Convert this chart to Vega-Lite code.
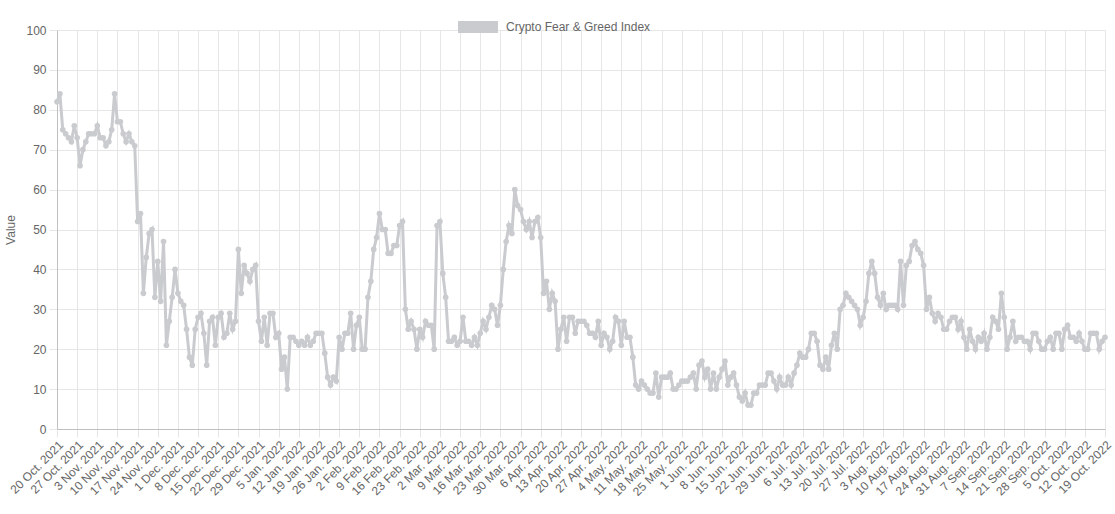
{
"$schema": "https://vega.github.io/schema/vega-lite/v6.json",
"autosize": {"type": "none"},
"width": 1048,
"height": 399,
"padding": {"left": 57, "top": 30, "right": 10, "bottom": 85},
"background": "white",
"config": {"view": {"stroke": null}, "font": "Liberation Sans"},
"data": {"values": [
{"d":"2021-10-20","v":82},{"d":"2021-10-21","v":84},{"d":"2021-10-22","v":75},{"d":"2021-10-23","v":74},{"d":"2021-10-24","v":73},{"d":"2021-10-25","v":72},{"d":"2021-10-26","v":76},{"d":"2021-10-27","v":73},{"d":"2021-10-28","v":66},{"d":"2021-10-29","v":70},{"d":"2021-10-30","v":72},{"d":"2021-10-31","v":74},
{"d":"2021-11-01","v":74},{"d":"2021-11-02","v":74},{"d":"2021-11-03","v":76},{"d":"2021-11-04","v":73},{"d":"2021-11-05","v":73},{"d":"2021-11-06","v":71},{"d":"2021-11-07","v":72},{"d":"2021-11-08","v":75},{"d":"2021-11-09","v":84},{"d":"2021-11-10","v":77},{"d":"2021-11-11","v":77},{"d":"2021-11-12","v":74},{"d":"2021-11-13","v":72},{"d":"2021-11-14","v":74},{"d":"2021-11-15","v":72},{"d":"2021-11-16","v":71},{"d":"2021-11-17","v":52},{"d":"2021-11-18","v":54},{"d":"2021-11-19","v":34},{"d":"2021-11-20","v":43},{"d":"2021-11-21","v":49},{"d":"2021-11-22","v":50},{"d":"2021-11-23","v":33},{"d":"2021-11-24","v":42},{"d":"2021-11-25","v":32},{"d":"2021-11-26","v":47},{"d":"2021-11-27","v":21},{"d":"2021-11-28","v":27},{"d":"2021-11-29","v":33},{"d":"2021-11-30","v":40},
{"d":"2021-12-01","v":34},{"d":"2021-12-02","v":32},{"d":"2021-12-03","v":31},{"d":"2021-12-04","v":25},{"d":"2021-12-05","v":18},{"d":"2021-12-06","v":16},{"d":"2021-12-07","v":25},{"d":"2021-12-08","v":28},{"d":"2021-12-09","v":29},{"d":"2021-12-10","v":24},{"d":"2021-12-11","v":16},{"d":"2021-12-12","v":27},{"d":"2021-12-13","v":28},{"d":"2021-12-14","v":21},{"d":"2021-12-15","v":28},{"d":"2021-12-16","v":29},{"d":"2021-12-17","v":23},{"d":"2021-12-18","v":24},{"d":"2021-12-19","v":29},{"d":"2021-12-20","v":25},{"d":"2021-12-21","v":27},{"d":"2021-12-22","v":45},{"d":"2021-12-23","v":34},{"d":"2021-12-24","v":41},{"d":"2021-12-25","v":39},{"d":"2021-12-26","v":37},{"d":"2021-12-27","v":40},{"d":"2021-12-28","v":41},{"d":"2021-12-29","v":27},{"d":"2021-12-30","v":22},{"d":"2021-12-31","v":28},
{"d":"2022-01-01","v":21},{"d":"2022-01-02","v":29},{"d":"2022-01-03","v":29},{"d":"2022-01-04","v":23},{"d":"2022-01-05","v":24},{"d":"2022-01-06","v":15},{"d":"2022-01-07","v":18},{"d":"2022-01-08","v":10},{"d":"2022-01-09","v":23},{"d":"2022-01-10","v":23},{"d":"2022-01-11","v":22},{"d":"2022-01-12","v":21},{"d":"2022-01-13","v":22},{"d":"2022-01-14","v":21},{"d":"2022-01-15","v":23},{"d":"2022-01-16","v":21},{"d":"2022-01-17","v":22},{"d":"2022-01-18","v":24},{"d":"2022-01-19","v":24},{"d":"2022-01-20","v":24},{"d":"2022-01-21","v":19},{"d":"2022-01-22","v":13},{"d":"2022-01-23","v":11},{"d":"2022-01-24","v":13},{"d":"2022-01-25","v":12},{"d":"2022-01-26","v":23},{"d":"2022-01-27","v":20},{"d":"2022-01-28","v":24},{"d":"2022-01-29","v":24},{"d":"2022-01-30","v":29},{"d":"2022-01-31","v":20},
{"d":"2022-02-01","v":26},{"d":"2022-02-02","v":28},{"d":"2022-02-03","v":20},{"d":"2022-02-04","v":20},{"d":"2022-02-05","v":33},{"d":"2022-02-06","v":37},{"d":"2022-02-07","v":45},{"d":"2022-02-08","v":48},{"d":"2022-02-09","v":54},{"d":"2022-02-10","v":50},{"d":"2022-02-11","v":50},{"d":"2022-02-12","v":44},{"d":"2022-02-13","v":44},{"d":"2022-02-14","v":46},{"d":"2022-02-15","v":46},{"d":"2022-02-16","v":51},{"d":"2022-02-17","v":52},{"d":"2022-02-18","v":30},{"d":"2022-02-19","v":25},{"d":"2022-02-20","v":27},{"d":"2022-02-21","v":25},{"d":"2022-02-22","v":20},{"d":"2022-02-23","v":25},{"d":"2022-02-24","v":23},{"d":"2022-02-25","v":27},{"d":"2022-02-26","v":26},{"d":"2022-02-27","v":26},{"d":"2022-02-28","v":20},
{"d":"2022-03-01","v":51},{"d":"2022-03-02","v":52},{"d":"2022-03-03","v":39},{"d":"2022-03-04","v":33},{"d":"2022-03-05","v":22},{"d":"2022-03-06","v":22},{"d":"2022-03-07","v":23},{"d":"2022-03-08","v":21},{"d":"2022-03-09","v":22},{"d":"2022-03-10","v":28},{"d":"2022-03-11","v":22},{"d":"2022-03-12","v":22},{"d":"2022-03-13","v":21},{"d":"2022-03-14","v":23},{"d":"2022-03-15","v":21},{"d":"2022-03-16","v":24},{"d":"2022-03-17","v":27},{"d":"2022-03-18","v":25},{"d":"2022-03-19","v":28},{"d":"2022-03-20","v":31},{"d":"2022-03-21","v":30},{"d":"2022-03-22","v":26},{"d":"2022-03-23","v":31},{"d":"2022-03-24","v":40},{"d":"2022-03-25","v":47},{"d":"2022-03-26","v":51},{"d":"2022-03-27","v":49},{"d":"2022-03-28","v":60},{"d":"2022-03-29","v":56},{"d":"2022-03-30","v":55},{"d":"2022-03-31","v":52},
{"d":"2022-04-01","v":50},{"d":"2022-04-02","v":52},{"d":"2022-04-03","v":48},{"d":"2022-04-04","v":52},{"d":"2022-04-05","v":53},{"d":"2022-04-06","v":48},{"d":"2022-04-07","v":34},{"d":"2022-04-08","v":37},{"d":"2022-04-09","v":30},{"d":"2022-04-10","v":34},{"d":"2022-04-11","v":32},{"d":"2022-04-12","v":20},{"d":"2022-04-13","v":25},{"d":"2022-04-14","v":28},{"d":"2022-04-15","v":22},{"d":"2022-04-16","v":28},{"d":"2022-04-17","v":28},{"d":"2022-04-18","v":24},{"d":"2022-04-19","v":27},{"d":"2022-04-20","v":27},{"d":"2022-04-21","v":27},{"d":"2022-04-22","v":26},{"d":"2022-04-23","v":24},{"d":"2022-04-24","v":24},{"d":"2022-04-25","v":23},{"d":"2022-04-26","v":27},{"d":"2022-04-27","v":21},{"d":"2022-04-28","v":24},{"d":"2022-04-29","v":23},{"d":"2022-04-30","v":20},
{"d":"2022-05-01","v":22},{"d":"2022-05-02","v":28},{"d":"2022-05-03","v":27},{"d":"2022-05-04","v":21},{"d":"2022-05-05","v":27},{"d":"2022-05-06","v":23},{"d":"2022-05-07","v":23},{"d":"2022-05-08","v":18},{"d":"2022-05-09","v":11},{"d":"2022-05-10","v":10},{"d":"2022-05-11","v":12},{"d":"2022-05-12","v":11},{"d":"2022-05-13","v":10},{"d":"2022-05-14","v":9},{"d":"2022-05-15","v":9},{"d":"2022-05-16","v":14},{"d":"2022-05-17","v":8},{"d":"2022-05-18","v":13},{"d":"2022-05-19","v":13},{"d":"2022-05-20","v":13},{"d":"2022-05-21","v":14},{"d":"2022-05-22","v":10},{"d":"2022-05-23","v":10},{"d":"2022-05-24","v":11},{"d":"2022-05-25","v":12},{"d":"2022-05-26","v":12},{"d":"2022-05-27","v":12},{"d":"2022-05-28","v":13},{"d":"2022-05-29","v":14},{"d":"2022-05-30","v":10},{"d":"2022-05-31","v":16},
{"d":"2022-06-01","v":17},{"d":"2022-06-02","v":13},{"d":"2022-06-03","v":15},{"d":"2022-06-04","v":10},{"d":"2022-06-05","v":14},{"d":"2022-06-06","v":10},{"d":"2022-06-07","v":13},{"d":"2022-06-08","v":15},{"d":"2022-06-09","v":17},{"d":"2022-06-10","v":11},{"d":"2022-06-11","v":13},{"d":"2022-06-12","v":14},{"d":"2022-06-13","v":11},{"d":"2022-06-14","v":8},{"d":"2022-06-15","v":7},{"d":"2022-06-16","v":9},{"d":"2022-06-17","v":6},{"d":"2022-06-18","v":6},{"d":"2022-06-19","v":9},{"d":"2022-06-20","v":9},{"d":"2022-06-21","v":11},{"d":"2022-06-22","v":11},{"d":"2022-06-23","v":11},{"d":"2022-06-24","v":14},{"d":"2022-06-25","v":14},{"d":"2022-06-26","v":12},{"d":"2022-06-27","v":10},{"d":"2022-06-28","v":13},{"d":"2022-06-29","v":11},{"d":"2022-06-30","v":11},
{"d":"2022-07-01","v":13},{"d":"2022-07-02","v":11},{"d":"2022-07-03","v":14},{"d":"2022-07-04","v":16},{"d":"2022-07-05","v":19},{"d":"2022-07-06","v":18},{"d":"2022-07-07","v":18},{"d":"2022-07-08","v":20},{"d":"2022-07-09","v":24},{"d":"2022-07-10","v":24},{"d":"2022-07-11","v":22},{"d":"2022-07-12","v":16},{"d":"2022-07-13","v":15},{"d":"2022-07-14","v":18},{"d":"2022-07-15","v":15},{"d":"2022-07-16","v":21},{"d":"2022-07-17","v":24},{"d":"2022-07-18","v":20},{"d":"2022-07-19","v":30},{"d":"2022-07-20","v":31},{"d":"2022-07-21","v":34},{"d":"2022-07-22","v":33},{"d":"2022-07-23","v":32},{"d":"2022-07-24","v":31},{"d":"2022-07-25","v":30},{"d":"2022-07-26","v":26},{"d":"2022-07-27","v":28},{"d":"2022-07-28","v":32},{"d":"2022-07-29","v":39},{"d":"2022-07-30","v":42},{"d":"2022-07-31","v":39},
{"d":"2022-08-01","v":33},{"d":"2022-08-02","v":31},{"d":"2022-08-03","v":34},{"d":"2022-08-04","v":30},{"d":"2022-08-05","v":31},{"d":"2022-08-06","v":31},{"d":"2022-08-07","v":31},{"d":"2022-08-08","v":30},{"d":"2022-08-09","v":42},{"d":"2022-08-10","v":31},{"d":"2022-08-11","v":41},{"d":"2022-08-12","v":42},{"d":"2022-08-13","v":46},{"d":"2022-08-14","v":47},{"d":"2022-08-15","v":45},{"d":"2022-08-16","v":44},{"d":"2022-08-17","v":41},{"d":"2022-08-18","v":30},{"d":"2022-08-19","v":33},{"d":"2022-08-20","v":29},{"d":"2022-08-21","v":27},{"d":"2022-08-22","v":29},{"d":"2022-08-23","v":28},{"d":"2022-08-24","v":25},{"d":"2022-08-25","v":25},{"d":"2022-08-26","v":27},{"d":"2022-08-27","v":28},{"d":"2022-08-28","v":28},{"d":"2022-08-29","v":25},{"d":"2022-08-30","v":27},{"d":"2022-08-31","v":23},
{"d":"2022-09-01","v":20},{"d":"2022-09-02","v":25},{"d":"2022-09-03","v":22},{"d":"2022-09-04","v":20},{"d":"2022-09-05","v":23},{"d":"2022-09-06","v":22},{"d":"2022-09-07","v":24},{"d":"2022-09-08","v":20},{"d":"2022-09-09","v":23},{"d":"2022-09-10","v":28},{"d":"2022-09-11","v":27},{"d":"2022-09-12","v":25},{"d":"2022-09-13","v":34},{"d":"2022-09-14","v":28},{"d":"2022-09-15","v":20},{"d":"2022-09-16","v":23},{"d":"2022-09-17","v":27},{"d":"2022-09-18","v":22},{"d":"2022-09-19","v":23},{"d":"2022-09-20","v":23},{"d":"2022-09-21","v":22},{"d":"2022-09-22","v":22},{"d":"2022-09-23","v":20},{"d":"2022-09-24","v":24},{"d":"2022-09-25","v":24},{"d":"2022-09-26","v":22},{"d":"2022-09-27","v":20},{"d":"2022-09-28","v":20},{"d":"2022-09-29","v":22},{"d":"2022-09-30","v":23},
{"d":"2022-10-01","v":20},{"d":"2022-10-02","v":24},{"d":"2022-10-03","v":24},{"d":"2022-10-04","v":20},{"d":"2022-10-05","v":25},{"d":"2022-10-06","v":26},{"d":"2022-10-07","v":23},{"d":"2022-10-08","v":23},{"d":"2022-10-09","v":22},{"d":"2022-10-10","v":24},{"d":"2022-10-11","v":22},{"d":"2022-10-12","v":20},{"d":"2022-10-13","v":20},{"d":"2022-10-14","v":24},{"d":"2022-10-15","v":24},{"d":"2022-10-16","v":24},{"d":"2022-10-17","v":20},{"d":"2022-10-18","v":22},{"d":"2022-10-19","v":23}
]},
"mark": {"type": "line", "strokeWidth": 3, "point": {"filled": true, "size": 32}},
"encoding": {
"x": {"field": "d", "type": "temporal",
"scale": {"type": "utc", "domain": [1634688000000, 1666137600000], "nice": false},
"axis": {"title": null, "format": "%-d %b. %Y", "labelAngle": -45, "labelAlign": "right", "labelBaseline": "top",
"labelFontSize": 12, "labelColor": "#666", "labelFont": "Liberation Sans", "labelPadding": 2, "labelOverlap": false, "labelFlush": false,
"gridColor": "#e6e6e6", "tickColor": "#e6e6e6", "tickSize": 8, "domainColor": "#c0c0c0",
"values": [1634688000000,1635292800000,1635897600000,1636502400000,1637107200000,1637712000000,1638316800000,1638921600000,1639526400000,1640131200000,1640736000000,1641340800000,1641945600000,1642550400000,1643155200000,1643760000000,1644364800000,1644969600000,1645574400000,1646179200000,1646784000000,1647388800000,1647993600000,1648598400000,1649203200000,1649808000000,1650412800000,1651017600000,1651622400000,1652227200000,1652832000000,1653436800000,1654041600000,1654646400000,1655251200000,1655856000000,1656460800000,1657065600000,1657670400000,1658275200000,1658880000000,1659484800000,1660089600000,1660694400000,1661299200000,1661904000000,1662508800000,1663113600000,1663718400000,1664323200000,1664928000000,1665532800000,1666137600000]}},
"y": {"field": "v", "type": "quantitative",
"scale": {"domain": [0, 100], "nice": false},
"axis": {"title": "Value", "titleFont": "Liberation Sans", "titleFontSize": 12, "titleFontWeight": "normal", "titleColor": "#666", "titlePadding": 8,
"values": [0,10,20,30,40,50,60,70,80,90,100], "labelFontSize": 12, "labelColor": "#666", "labelFont": "Liberation Sans", "labelPadding": 3,
"gridColor": "#e6e6e6", "tickColor": "#e6e6e6", "tickSize": 8, "domainColor": "#c0c0c0"}},
"color": {"datum": "Crypto Fear & Greed Index", "type": "nominal",
"scale": {"range": ["#c9cbcf"]},
"legend": {"title": null, "orient": "none", "legendX": 401, "legendY": -23, "padding": 0,
"symbolType": "M-1,-0.3H1V0.3H-1Z", "symbolSize": 1600, "symbolStrokeWidth": 0, "symbolFillColor": "#c9cbcf",
"labelFont": "Liberation Sans", "labelFontSize": 12, "labelColor": "#666", "labelOffset": 8}}
}
}
